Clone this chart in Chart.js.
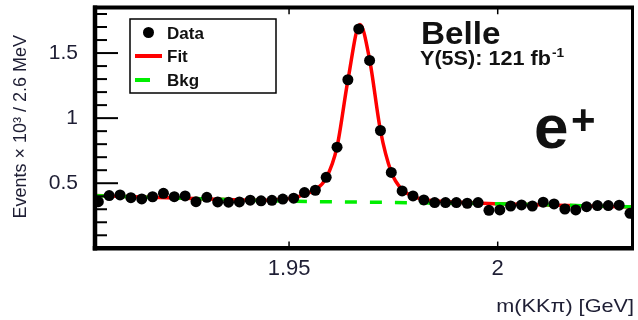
<!DOCTYPE html>
<html>
<head>
<meta charset="utf-8">
<script src="https://cdn.jsdelivr.net/npm/chart.js@4/dist/chart.umd.min.js"></script>
<style>
  html, body { margin: 0; padding: 0; background: #fff; }
  #plot { display: block; }
</style>
</head>
<body>
<canvas id="plot" width="638" height="320"></canvas>
<script>
const FONT = "'Liberation Sans', Arial, Helvetica, sans-serif";
const INK = '#1e1e34';

// bin centres, m(KKpi) in GeV (2.6 MeV bins)
const massBins = [
  1.9043, 1.9069, 1.9095, 1.9121, 1.9147, 1.9173, 1.9199, 1.9225, 1.9251, 1.9277,
  1.9303, 1.9329, 1.9355, 1.9381, 1.9407, 1.9433, 1.9459, 1.9485, 1.9511, 1.9537,
  1.9563, 1.9589, 1.9615, 1.9641, 1.9667, 1.9693, 1.9719, 1.9745, 1.9771, 1.9797,
  1.9823, 1.9849, 1.9875, 1.9901, 1.9927, 1.9953, 1.9979, 2.0005, 2.0031, 2.0057,
  2.0083, 2.0109, 2.0135, 2.0161, 2.0187, 2.0213, 2.0239, 2.0265, 2.0291, 2.0317
];
// events x 10^3 per bin
const dataEvents = [
  0.358, 0.405, 0.410, 0.389, 0.379, 0.396, 0.422, 0.397, 0.402, 0.358,
  0.392, 0.356, 0.354, 0.356, 0.370, 0.365, 0.369, 0.378, 0.385, 0.428,
  0.446, 0.545, 0.777, 1.295, 1.685, 1.443, 0.905, 0.583, 0.441, 0.402,
  0.372, 0.351, 0.351, 0.351, 0.346, 0.351, 0.292, 0.295, 0.325, 0.333,
  0.325, 0.354, 0.341, 0.302, 0.295, 0.320, 0.328, 0.328, 0.331, 0.269
];

// fit curve
const fitMass = [1.9035, 1.925, 1.945, 1.9485, 1.9511, 1.9537, 1.9563, 1.9589, 1.9615, 1.9641,
                 1.9670, 1.9693, 1.9719, 1.9745, 1.9771, 1.9797, 1.9823, 1.990, 2.000, 2.0323];
const fitEvents = [0.405, 0.384, 0.370, 0.376, 0.388, 0.415, 0.450, 0.540, 0.780, 1.290,
                   1.720, 1.450, 0.905, 0.585, 0.450, 0.400, 0.375, 0.355, 0.342, 0.318];

// background only
const bkgMass = [1.9035, 1.925, 1.950, 1.975, 2.000, 2.0323];
const bkgEvents = [0.404, 0.384, 0.362, 0.352, 0.342, 0.318];

const xTicks = [1.95, 2.0];
const yTicks = [0.5, 1, 1.5];
const yMinorTicks = [0.1, 0.2, 0.3, 0.4, 0.6, 0.7, 0.8, 0.9, 1.1, 1.2, 1.3, 1.4, 1.6, 1.7, 1.8];

const pts = (xs, ys) => xs.map((x, i) => ({ x, y: ys[i] }));

function stretchedText(ctx, text, x, y, font, sx, align) {
  ctx.save();
  ctx.font = font;
  ctx.textAlign = align || 'left';
  ctx.textBaseline = 'alphabetic';
  ctx.translate(x, y);
  ctx.scale(sx, 1);
  ctx.fillText(text, 0, 0);
  ctx.restore();
}

function noPad(s) {
  s.paddingTop = 0; s.paddingBottom = 0; s.paddingLeft = 0; s.paddingRight = 0;
}

const rootFrame = {
  id: 'rootFrame',
  afterDraw(chart) {
    const { ctx, chartArea: a, scales } = chart;
    const xs = scales.x, ys = scales.y;
    ctx.save();
    ctx.strokeStyle = '#000';
    ctx.lineCap = 'square';

    // inward ticks
    ctx.lineWidth = 2;
    yTicks.forEach(v => {
      const py = ys.getPixelForValue(v);
      ctx.beginPath(); ctx.moveTo(a.left, py); ctx.lineTo(a.left + 22, py); ctx.stroke();
    });
    yMinorTicks.forEach(v => {
      const py = ys.getPixelForValue(v);
      ctx.beginPath(); ctx.moveTo(a.left, py); ctx.lineTo(a.left + 11, py); ctx.stroke();
    });
    ctx.lineWidth = 1.5;
    xTicks.forEach(v => {
      const px = xs.getPixelForValue(v);
      ctx.beginPath(); ctx.moveTo(px, a.bottom); ctx.lineTo(px, a.bottom - 6); ctx.stroke();
      ctx.beginPath(); ctx.moveTo(px, a.top); ctx.lineTo(px, a.top + 6); ctx.stroke();
    });

    // frame
    ctx.lineCap = 'butt';
    ctx.lineWidth = 4;
    ctx.beginPath(); ctx.moveTo(a.left - 2, a.top); ctx.lineTo(a.right + 1.5, a.top); ctx.stroke();
    ctx.lineWidth = 3;
    ctx.beginPath(); ctx.moveTo(a.right, a.top); ctx.lineTo(a.right, a.bottom); ctx.stroke();
    ctx.lineWidth = 4.5;
    ctx.beginPath(); ctx.moveTo(a.left, a.top - 2); ctx.lineTo(a.left, a.bottom + 2.25); ctx.stroke();
    ctx.beginPath(); ctx.moveTo(a.left - 2.25, a.bottom); ctx.lineTo(a.right + 1.5, a.bottom); ctx.stroke();

    // legend box
    ctx.fillStyle = '#fff';
    ctx.fillRect(130, 19, 146, 74);
    ctx.lineWidth = 1.5;
    ctx.strokeRect(130, 19, 146, 74);
    ctx.fillStyle = '#000';
    ctx.beginPath(); ctx.arc(148.5, 32.5, 5.5, 0, Math.PI * 2); ctx.fill();
    ctx.lineWidth = 4;
    ctx.strokeStyle = '#ff0000';
    ctx.beginPath(); ctx.moveTo(135, 56); ctx.lineTo(162, 56); ctx.stroke();
    ctx.strokeStyle = '#00ee00';
    ctx.beginPath(); ctx.moveTo(135, 80); ctx.lineTo(150, 80); ctx.stroke();
    const labels = chart.data.datasets.map(d => d.label);
    ctx.fillStyle = '#111';
    stretchedText(ctx, labels[0], 167, 38.5, 'bold 17px ' + FONT, 1);
    stretchedText(ctx, labels[2], 167, 62, 'bold 17px ' + FONT, 1);
    stretchedText(ctx, labels[1], 167, 86, 'bold 17px ' + FONT, 1);

    // experiment labels
    stretchedText(ctx, 'Belle', 421, 43.5, 'bold 32px ' + FONT, 1.04);
    stretchedText(ctx, 'Y(5S): 121 fb', 420, 65, 'bold 20px ' + FONT, 1.08);
    stretchedText(ctx, '-1', 552, 57, 'bold 13px ' + FONT, 1.05);
    stretchedText(ctx, 'e', 534, 148, 'bold 62px ' + FONT, 1);
    stretchedText(ctx, '+', 571, 134, 'bold 42px ' + FONT, 1);

    // axis titles
    ctx.fillStyle = INK;
    stretchedText(ctx, 'm(KK\u03c0) [GeV]', 634, 311.5, '19px ' + FONT, 1.14, 'right');
    ctx.save();
    ctx.translate(26, 35);
    ctx.rotate(-Math.PI / 2);
    ctx.font = '18px ' + FONT;
    ctx.textAlign = 'right';
    ctx.textBaseline = 'alphabetic';
    ctx.fillText('Events \u00d7 10\u00b3 / 2.6 MeV', 0, 0);
    ctx.restore();

    ctx.restore();
  }
};

new Chart(document.getElementById('plot'), {
  type: 'scatter',
  data: {
    datasets: [
      {
        label: 'Data',
        data: pts(massBins, dataEvents),
        showLine: false,
        pointRadius: 5.5,
        pointBackgroundColor: '#000',
        pointBorderColor: '#000',
        pointBorderWidth: 0,
        order: 0,
      },
      {
        label: 'Bkg',
        type: 'line',
        data: pts(bkgMass, bkgEvents),
        borderColor: '#00ee00',
        borderWidth: 3.5,
        borderDash: [12, 13],
        pointRadius: 0,
        cubicInterpolationMode: 'monotone',
        fill: false,
        order: 1,
      },
      {
        label: 'Fit',
        type: 'line',
        data: pts(fitMass, fitEvents),
        borderColor: '#ff0000',
        borderWidth: 3.5,
        pointRadius: 0,
        cubicInterpolationMode: 'monotone',
        fill: false,
        order: 2,
      },
    ]
  },
  options: {
    responsive: false,
    animation: false,
    devicePixelRatio: 1,
    layout: { padding: { top: 7.5, right: 3, left: 0, bottom: 0 } },
    plugins: { legend: { display: false }, tooltip: { enabled: false } },
    scales: {
      x: {
        type: 'linear',
        min: 1.9035, max: 2.0323,
        grid: { display: false, drawTicks: false },
        border: { display: false },
        afterBuildTicks: s => { s.ticks = xTicks.map(v => ({ value: v })); },
        afterFit: s => { s.height = 71.7; noPad(s); },
        ticks: {
          autoSkip: false, maxRotation: 0, padding: 7,
          color: INK, font: { size: 22, family: FONT },
          callback: v => String(v),
        },
      },
      y: {
        min: 0, max: 1.85,
        grid: { display: false, drawTicks: false },
        border: { display: false },
        afterBuildTicks: s => { s.ticks = yTicks.map(v => ({ value: v })); },
        afterFit: s => { s.width = 95; noPad(s); },
        ticks: {
          padding: 17,
          color: INK, font: { size: 21, family: FONT },
          callback: v => String(v),
        },
      }
    }
  },
  plugins: [rootFrame]
});
</script>
</body>
</html>
